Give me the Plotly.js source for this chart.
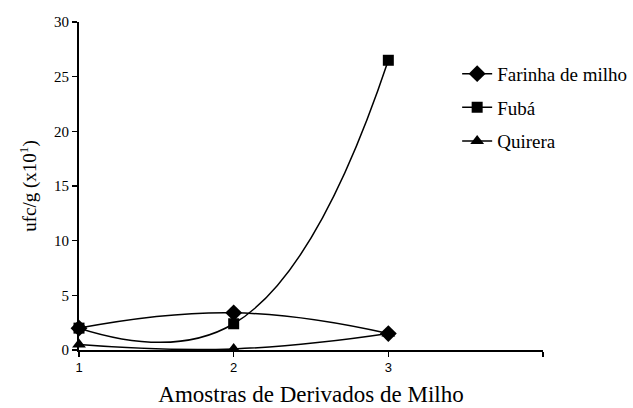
<!DOCTYPE html>
<html><head><meta charset="utf-8">
<script src="https://cdn.plot.ly/plotly-3.0.1.min.js"></script>
<style>html,body{margin:0;padding:0;background:#fff}#chart{width:633px;height:408px}</style>
</head><body><div id="chart"></div>
<script>
const samples = [1, 2, 3];
const farinha = [2.0, 3.4, 1.5];
const fuba = [2.0, 2.4, 26.5];
const quirera = [0.5, 0.1, 1.5];
const names = ["Farinha de milho", "Fubá", "Quirera"];
const yTicks = [0, 5, 10, 15, 20, 25, 30];
const xTicks = [1, 2, 3];

const SERIF = '"Liberation Serif", "Times New Roman", serif';
function tr(y, name, sym, size) {
  return {x: samples, y: y, name: name, legendgroup: name, type: 'scatter', mode: 'lines+markers',
    line: {color: '#000', width: 1.5, shape: 'spline', smoothing: 1.3},
    marker: {symbol: sym, size: size, color: '#000'}, cliponaxis: false};
}
const data = [
  tr(farinha, names[0], 'diamond', 13),
  tr(fuba, names[1], 'square', 11),
  tr(quirera, names[2], 'triangle-up', 12)
];
const layout = {
  width: 633, height: 408,
  font: {family: SERIF, size: 19, color: '#000'},
  margin: {l: 79, r: 90, t: 22, b: 58, autoexpand: false},
  paper_bgcolor: '#fff', plot_bgcolor: '#fff',
  showlegend: true,
  legend: {x: 0.815, y: 0.9, xref: 'paper', yref: 'paper', xanchor: 'left', yanchor: 'top',
    font: {family: SERIF, size: 19, color: '#000'},
    tracegroupgap: 6, itemwidth: 30},
  xaxis: {range: [1, 4], tickmode: 'array', tickvals: xTicks,
    minor: {tickmode: 'array', tickvals: [4], ticks: 'outside', ticklen: 5, tickwidth: 1.5, tickcolor: '#000'},
    showgrid: false, zeroline: false, showline: true, linecolor: '#000', linewidth: 1.5,
    ticks: 'outside', ticklen: 5, tickwidth: 1.5, tickcolor: '#000',
    tickfont: {family: '"Liberation Sans", Arial, sans-serif', size: 13, color: '#000'},
    title: {text: 'Amostras de Derivados de Milho', standoff: 12,
      font: {family: SERIF, size: 23, color: '#000'}}},
  yaxis: {range: [0, 30], tickmode: 'array', tickvals: yTicks,
    showgrid: false, zeroline: false, showline: true, linecolor: '#000', linewidth: 2,
    ticks: 'outside', ticklen: 5, tickwidth: 1.5, tickcolor: '#000',
    tickfont: {family: SERIF, size: 15, color: '#000'},
    title: {text: 'ufc/g (x10<sup>1</sup>)', standoff: 12,
      font: {family: SERIF, size: 19, color: '#000'}}}
};
Plotly.newPlot('chart', data, layout, {displayModeBar: false, staticPlot: true});
</script></body></html>
